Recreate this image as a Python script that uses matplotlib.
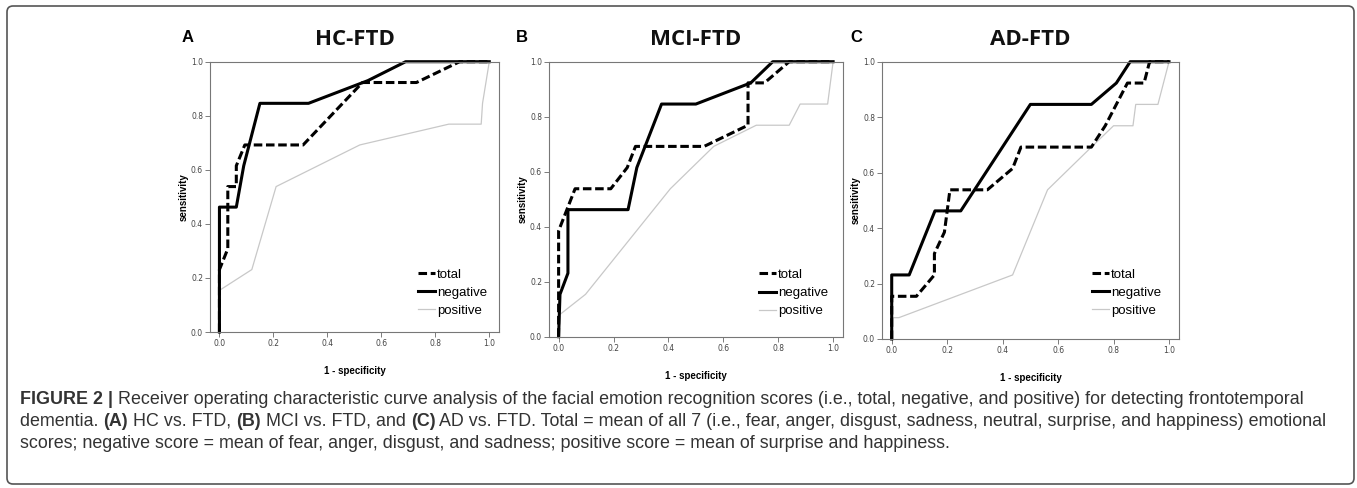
import matplotlib
matplotlib.use("Agg")
import matplotlib.pyplot as plt
from matplotlib import font_manager as fm
from matplotlib.patches import FancyBboxPatch
from matplotlib.lines import Line2D
from matplotlib.transforms import IdentityTransform

# ROC curves (x = 1 - specificity, y = sensitivity)
HC_tot_x = [0, 0, 0.031, 0.031, 0.0625, 0.0625, 0.094, 0.31, 0.53, 0.73, 0.89, 1.0]
HC_tot_y = [0, 0.231, 0.308, 0.538, 0.538, 0.615, 0.692, 0.692, 0.923, 0.923, 1.0, 1.0]
HC_neg_x = [0, 0, 0.0625, 0.09, 0.15, 0.33, 0.55, 0.69, 1.0]
HC_neg_y = [0, 0.462, 0.462, 0.615, 0.846, 0.846, 0.93, 1.0, 1.0]
HC_pos_x = [0, 0, 0.12, 0.21, 0.52, 0.85, 0.97, 0.975, 1.0]
HC_pos_y = [0, 0.154, 0.231, 0.538, 0.692, 0.769, 0.769, 0.846, 1.0]

MCI_tot_x = [0, 0, 0.06, 0.19, 0.25, 0.28, 0.53, 0.69, 0.69, 0.75, 0.84, 1.0]
MCI_tot_y = [0, 0.385, 0.538, 0.538, 0.615, 0.692, 0.692, 0.769, 0.923, 0.923, 1.0, 1.0]
MCI_neg_x = [0, 0.005, 0.034, 0.034, 0.253, 0.285, 0.375, 0.5, 0.7, 0.78, 1.0]
MCI_neg_y = [0, 0.154, 0.231, 0.462, 0.462, 0.615, 0.846, 0.846, 0.923, 1.0, 1.0]
MCI_pos_x = [0, 0, 0.098, 0.407, 0.565, 0.72, 0.84, 0.88, 0.98, 1.0]
MCI_pos_y = [0, 0.077, 0.154, 0.538, 0.692, 0.769, 0.769, 0.846, 0.846, 1.0]

AD_tot_x = [0, 0, 0.089, 0.154, 0.154, 0.19, 0.21, 0.345, 0.436, 0.466, 0.72, 0.77, 0.85, 0.91, 0.93, 1.0]
AD_tot_y = [0, 0.154, 0.154, 0.231, 0.308, 0.385, 0.538, 0.538, 0.615, 0.692, 0.692, 0.769, 0.923, 0.923, 1.0, 1.0]
AD_neg_x = [0, 0, 0.063, 0.156, 0.249, 0.5, 0.72, 0.81, 0.86, 1.0]
AD_neg_y = [0, 0.231, 0.231, 0.462, 0.462, 0.846, 0.846, 0.923, 1.0, 1.0]
AD_pos_x = [0, 0, 0.026, 0.436, 0.562, 0.72, 0.8, 0.87, 0.88, 0.96, 1.0]
AD_pos_y = [0, 0.077, 0.077, 0.231, 0.538, 0.692, 0.769, 0.769, 0.846, 0.846, 1.0]

titles = ["HC-FTD", "MCI-FTD", "AD-FTD"]
letters = ["A", "B", "C"]
ticks = [0.0, 0.2, 0.4, 0.6, 0.8, 1.0]
tick_labels = ["0.0", "0.2", "0.4", "0.6", "0.8", "1.0"]
legend_labels = ["total", "negative", "positive"]

caption = [
    [("FIGURE 2 |", "bold"),
     (" Receiver operating characteristic curve analysis of the facial emotion recognition scores "
      "(i.e., total, negative, and positive) for detecting frontotemporal", "normal")],
    [("dementia. ", "normal"), ("(A)", "bold"), (" HC vs. FTD, ", "normal"), ("(B)", "bold"),
     (" MCI vs. FTD, and ", "normal"), ("(C)", "bold"),
     (" AD vs. FTD. Total = mean of all 7 (i.e., fear, anger, disgust, sadness, neutral, "
      "surprise, and happiness) emotional", "normal")],
    [("scores; negative score = mean of fear, anger, disgust, and sadness; positive score = "
      "mean of surprise and happiness.", "normal")],
]

W, H = 1357, 488
fig = plt.figure(figsize=(W / 100, H / 100), dpi=100)
PX = IdentityTransform()

names = {f.name for f in fm.fontManager.ttflist}
NARROW = "Liberation Sans Narrow" if "Liberation Sans Narrow" in names else "Liberation Sans"

# axes boxes in pixels: left, right, top, bottom
boxes = [(210, 499, 61.7, 332), (549, 843, 61.7, 336.7), (882, 1179, 61.7, 339)]
letter_x = [182, 516, 850]
legend_anchor = [(0.72, 0.235), (0.714, 0.247), (0.707, 0.255)]

curves = [
    (HC_tot_x, HC_tot_y, HC_neg_x, HC_neg_y, HC_pos_x, HC_pos_y),
    (MCI_tot_x, MCI_tot_y, MCI_neg_x, MCI_neg_y, MCI_pos_x, MCI_pos_y),
    (AD_tot_x, AD_tot_y, AD_neg_x, AD_neg_y, AD_pos_x, AD_pos_y),
]

DASH = (2.8, 1.2)

for i, (l, r, t, b) in enumerate(boxes):
    ax = fig.add_axes([l / W, 1 - b / H, (r - l) / W, (b - t) / H])
    tx, ty, nx, ny, px, py = curves[i]
    ax.plot(px, py, color="#c8c8c8", lw=0.9, clip_on=False)
    ax.plot(tx, ty, color="black", lw=2.2, dashes=DASH, clip_on=False)
    ax.plot(nx, ny, color="black", lw=2.2, clip_on=False)
    ax.set_xlim(-0.035, 1.036)
    ax.set_ylim(0, 1)
    ax.set_xticks(ticks)
    ax.set_xticklabels(tick_labels)
    ax.set_yticks(ticks)
    ax.set_yticklabels(tick_labels)
    ax.tick_params(length=3.5, width=0.6, color="#666666", labelsize=5.5,
                   labelcolor="#444444", pad=1.5)
    for s in ax.spines.values():
        s.set_color("#777777")
        s.set_linewidth(0.8)

    handles = [Line2D([], [], color="black", lw=2.2, dashes=DASH),
               Line2D([], [], color="black", lw=2.2),
               Line2D([], [], color="#c8c8c8", lw=0.9)]
    ax.legend(handles, legend_labels, loc="upper left", bbox_to_anchor=legend_anchor[i],
              frameon=False, handlelength=1.3, handletextpad=0.15, labelspacing=0.45,
              borderpad=0, borderaxespad=0, prop={"family": "Liberation Sans", "size": 9.5})

    cx = (l + r) / 2
    fig.text(cx, H - 45, titles[i], transform=PX, ha="center", va="baseline",
             fontsize=16, fontweight="bold", family="Open Sans", color="#111111")
    fig.text(letter_x[i], H - 42, letters[i], transform=PX, ha="left", va="baseline",
             fontsize=12, fontweight="bold", family="Liberation Sans", color="black")
    fig.text(l - 26.5, H - (t + b) / 2, "sensitivity", transform=PX, rotation=90,
             ha="center", va="center", fontsize=7, fontweight="bold", family=NARROW)
    fig.text(cx, H - (b + 39), "1 - specificity", transform=PX, ha="center", va="center",
             fontsize=7, fontweight="bold", family=NARROW)

renderer = fig.canvas.get_renderer()


def draw_runs(x, y, runs, size, draw=True):
    texts = []
    for s, w in runs:
        tt = fig.text(x, y, s, transform=PX, ha="left", va="baseline", fontsize=size,
                      fontweight=w, family=NARROW, color="#333333")
        x = tt.get_window_extent(renderer).x1
        texts.append(tt)
    if not draw:
        for tt in texts:
            tt.remove()
    return x


# size the caption so the second line spans the same width as in the figure
end = draw_runs(20, 0, caption[1], 10, draw=False)
cap_size = 10 * 1312 / (end - 20)

for k, runs in enumerate(caption):
    draw_runs(20, H - (404 + 22 * k), runs, cap_size)

border = FancyBboxPatch((7, H - 484), 1347, 478, boxstyle="round,pad=0,rounding_size=6",
                        transform=PX, fill=False, ec="#555555", lw=1.2)
fig.add_artist(border)

fig.savefig("out.png", dpi=100)
